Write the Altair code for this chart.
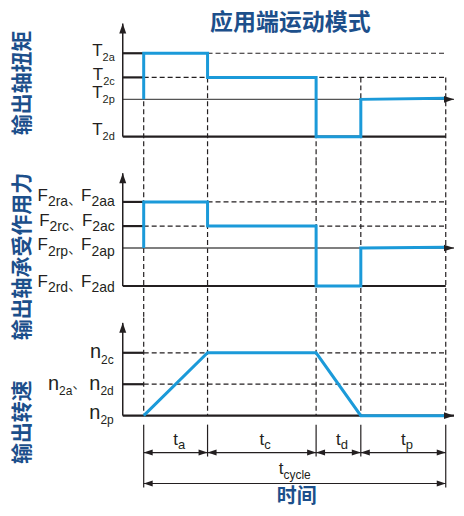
import altair as alt
import pandas as pd

# ---------------------------------------------------------------- data
phase_keys = ["a", "c", "d", "p"]            # t_a, t_c, t_d, t_p
phase_durations = [1.0, 1.7, 0.7, 1.33]
cycle_key = "cycle"

torque_labels = [[("T", "2a")], [("T", "2c")], [("T", "2p")], [("T", "2d")]]
torque_levels = [2.1, 1.0, 0.0, -1.7]
torque_roles = ["ref", "ref", "zero", "floor"]
torque_initial = 0.0
torque_phase_start = [2.1, 1.0, -1.7, 0.0]
torque_phase_end = [2.1, 1.0, -1.7, 0.05]

force_labels = [[("F", "2ra"), ("F", "2aa")], [("F", "2rc"), ("F", "2ac")],
                [("F", "2rp"), ("F", "2ap")], [("F", "2rd"), ("F", "2ad")]]
force_levels = [2.1, 1.0, 0.0, -1.73]
force_roles = ["ref", "ref", "zero", "floor"]
force_initial = 0.0
force_phase_start = [2.1, 1.0, -1.73, 0.0]
force_phase_end = [2.1, 1.0, -1.73, 0.04]

speed_labels = [[("n", "2c")], [("n", "2a"), ("n", "2d")], [("n", "2p")]]
speed_levels = [2.0, 1.0, 0.0]
speed_roles = ["ref", "ref", "zero_floor"]
speed_initial = 0.0
speed_phase_start = [0.0, 2.0, 2.0, 0.0]
speed_phase_end = [2.0, 2.0, 0.0, 0.0]

main_title = "应用端运动模式"
panel_titles = ["输出轴扭矩", "输出轴承受作用力", "输出转速"]
x_title = "时间"
label_separator = "、"
time_symbol = "t"

# ---------------------------------------------------------------- layout
MARGIN = 8
CHART_W = 448
T0_PX, PX_PER_T = 144.0, 64.0
AXIS_PX, ARROW_TIP_PX = 123.0, 455.0


def t_of(px):
    return (px - T0_PX) / PX_PER_T


def xrel(t):
    return T0_PX + PX_PER_T * t - MARGIN


X_DOMAIN = [t_of(MARGIN), t_of(MARGIN + CHART_W)]
AXIS_T, ARROW_T = t_of(AXIS_PX), t_of(ARROW_TIP_PX)

bounds = [0.0]
for d in phase_durations:
    bounds.append(bounds[-1] + d)
T_END = bounds[-1]

PANELS = [
    dict(top=8, bottom=160, base=99.0, unit=22.0, axis_top=23.0),
    dict(top=160, bottom=318, base=248.0, unit=22.0, axis_top=173.0),
    dict(top=318, bottom=420, base=416.0, unit=31.5, axis_top=323.0),
]
DIM = dict(top=420, bottom=508)


def vmin(p):
    return (p["base"] - p["bottom"]) / p["unit"]


def vmax(p):
    return (p["base"] - p["top"]) / p["unit"]


def v_of(p, px):
    return (p["base"] - px) / p["unit"]


def yrel(p, v):
    return p["base"] - v * p["unit"] - p["top"]


BLUE = "#1b9ad9"
INK = "#231f20"
GRAY = "#555555"
NAVY = "#1c4f8b"
LATIN = "Liberation Sans, Arial, Helvetica, Noto Sans CJK SC"
CJK = "Noto Sans CJK SC, Noto Sans CJK TC, sans-serif"
DASH = [5, 3]
ARROW_UP = "M0,0L0.35,1L-0.35,1Z"
ARROW_R = "M0,0L-1,-0.33L-1,0.33Z"
ARROW_L = "M0,0L1,-0.33L1,0.33Z"

WIDTH_EM = {"T": 0.611, "F": 0.611, "n": 0.556, "t": 0.278, "2": 0.556, "a": 0.556,
            "c": 0.5, "p": 0.556, "d": 0.556, "r": 0.333, "y": 0.5, "l": 0.222, "e": 0.556}


def text_w(s, size):
    return sum(WIDTH_EM.get(c, 0.556) for c in s) * size


LABEL_CFG = [
    dict(main=17, sub=11, sub_dy=5, sep_w=13, sep_size=13, sep_dy=3, right=115,
         offsets=[3, 2.5, -1.3, -2]),
    dict(main=17, sub=14, sub_dy=5.5, sep_w=13, sep_size=13, sep_dy=3, right=115,
         offsets=[-1, -0.5, 2, 1]),
    dict(main=20, sub=12, sub_dy=5.5, sep_w=17, sep_size=13, sep_dy=-2, right=114,
         offsets=[5.4, 5.7, 3]),
]
TITLE_CENTERS = [82.5, 256.5, 422.5]   # image y of rotated titles
TITLE_X = 23


def enc_x(field):
    return alt.X(f"{field}:Q", scale=alt.Scale(domain=X_DOMAIN, nice=False, zero=False), axis=None)


def enc_y(field, p):
    return alt.Y(f"{field}:Q", scale=alt.Scale(domain=[vmin(p), vmax(p)], nice=False, zero=False),
                 axis=None)


def seg_layer(rows, p, **mark):
    df = pd.DataFrame(rows, columns=["x", "x2", "y", "y2"])
    return alt.Chart(df).mark_rule(**mark).encode(
        x=enc_x("x"), x2="x2:Q", y=enc_y("y", p), y2="y2:Q")


def arrow_layer(rows, yenc, size):
    df = pd.DataFrame(rows, columns=["x", "y", "dir"])
    return alt.Chart(df).mark_point(filled=True, color=INK, opacity=1, size=size, strokeWidth=0).encode(
        x=enc_x("x"), y=yenc,
        shape=alt.Shape("dir:N", scale=alt.Scale(domain=["U", "R", "L"],
                                                 range=[ARROW_UP, ARROW_R, ARROW_L]), legend=None))


def text_layer(rows, **mark):
    df = pd.DataFrame(rows, columns=["x", "y", "text", "size"])
    return alt.Chart(df).mark_text(align="left", baseline="alphabetic", font=LATIN, color=INK, **mark).encode(
        x=alt.X("x:Q", scale=None, axis=None), y=alt.Y("y:Q", scale=None, axis=None),
        text="text:N", size=alt.Size("size:Q", scale=None, legend=None))


def label_rows(p, labels, levels, cfg):
    rows = []
    for lab, v, off in zip(labels, levels, cfg["offsets"]):
        base = yrel(p, v) + off
        x = cfg["right"] - MARGIN
        parts = list(reversed(lab))
        for j, (m, s) in enumerate(parts):
            x -= text_w(s, cfg["sub"])
            rows.append((x, base + cfg["sub_dy"], s, cfg["sub"]))
            x -= text_w(m, cfg["main"])
            rows.append((x, base, m, cfg["main"]))
            if j < len(parts) - 1:
                x -= cfg["sep_w"]
                rows.append((x, base + cfg["sep_dy"], label_separator, cfg["sep_size"]))
    return rows


def signal_panel(k, labels, levels, roles, initial, pstart, pend, vert_from, vert_to):
    p = PANELS[k]
    thick, thin, dashed, arrows = [], [], [], []
    for v, role in zip(levels, roles):
        if role == "ref":
            thick.append((AXIS_T, 0.0, v, v))
            dashed.append((0.0, T_END, v, v))
        elif role == "zero":
            thin.append((AXIS_T, ARROW_T, v, v))
            arrows.append((ARROW_T, v, "R"))
        elif role == "floor":
            thick.append((AXIS_T, T_END, v, v))
        elif role == "zero_floor":
            thick.append((AXIS_T, ARROW_T, v, v))
            arrows.append((ARROW_T, v, "R"))
    top_v = v_of(p, p["axis_top"])
    yaxis = [(AXIS_T, AXIS_T, min(levels), top_v)]
    arrows.append((AXIS_T, top_v, "U"))
    for b in bounds:
        dashed.append((b, b, vert_from, vert_to))

    pts = [(0.0, initial)]
    for i in range(len(phase_keys)):
        pts.append((bounds[i], pstart[i]))
        pts.append((bounds[i + 1], pend[i]))
    prof = pd.DataFrame(pts, columns=["t", "v"])
    prof["i"] = range(len(prof))

    layers = [
        seg_layer(dashed, p, color=INK, strokeWidth=1.2, strokeDash=DASH),
        seg_layer(thin, p, color=GRAY, strokeWidth=1.3),
        seg_layer(thick, p, color=INK, strokeWidth=2.2),
        alt.Chart(prof).mark_line(color=BLUE, strokeWidth=3, strokeJoin="miter").encode(
            x=enc_x("t"), y=enc_y("v", p), order="i:Q"),
        seg_layer(yaxis, p, color=INK, strokeWidth=1.5),
        arrow_layer(arrows, enc_y("y", p), 400),
        text_layer(label_rows(p, labels, levels, LABEL_CFG[k])),
        alt.Chart(pd.DataFrame({"text": [panel_titles[k]]})).mark_text(
            angle=270, font=CJK, fontWeight="bold", fontSize=21, color=NAVY,
            align="center", baseline="middle").encode(
            text="text:N", x=alt.value(TITLE_X - MARGIN), y=alt.value(TITLE_CENTERS[k] - p["top"])),
    ]
    if k == 0:
        layers.append(alt.Chart(pd.DataFrame({"text": [main_title]})).mark_text(
            font=CJK, fontWeight="bold", fontSize=23, color=NAVY, align="center", baseline="middle").encode(
            text="text:N", x=alt.value(291 - MARGIN), y=alt.value(22.5 - p["top"])))
    return alt.layer(*layers).properties(width=CHART_W, height=p["bottom"] - p["top"])


p1 = signal_panel(0, torque_labels, torque_levels, torque_roles, torque_initial,
                  torque_phase_start, torque_phase_end,
                  torque_levels[1], vmin(PANELS[0]))
p2 = signal_panel(1, force_labels, force_levels, force_roles, force_initial,
                  force_phase_start, force_phase_end,
                  vmax(PANELS[1]), vmin(PANELS[1]))
p3 = signal_panel(2, speed_labels, speed_levels, speed_roles, speed_initial,
                  speed_phase_start, speed_phase_end,
                  vmax(PANELS[2]), speed_levels[-1])

# ---------------------------------------------------------------- time dimensions
D0 = DIM["top"]
EXT_TOP, EXT_INNER, EXT_OUTER = 425 - D0, 457 - D0, 488 - D0
ROW1, ROW2 = 453 - D0, 484 - D0
ext = []
for i, b in enumerate(bounds):
    ext.append((b, b, EXT_TOP, EXT_OUTER if i in (0, len(bounds) - 1) else EXT_INNER))
dims = [(bounds[i], bounds[i + 1], ROW1, ROW1) for i in range(len(phase_keys))]
dims.append((0.0, T_END, ROW2, ROW2))
heads = []
for i in range(len(phase_keys)):
    heads += [(bounds[i], ROW1, "L"), (bounds[i + 1], ROW1, "R")]
heads += [(0.0, ROW2, "L"), (T_END, ROW2, "R")]

TMAIN, TSUB = 17, 13
dim_text = []
for i, key in enumerate(phase_keys):
    cx = xrel((bounds[i] + bounds[i + 1]) / 2)
    wt = text_w(time_symbol, TMAIN)
    dim_text.append((cx - wt / 2, 445 - D0, time_symbol, TMAIN))
    dim_text.append((cx + wt / 2, 449 - D0, key, TSUB))
wt, ws = text_w(time_symbol, TMAIN), text_w(cycle_key, 12)
cx = xrel(T_END / 2)
dim_text.append((cx - (wt + ws) / 2, 474 - D0, time_symbol, TMAIN))
dim_text.append((cx - (wt + ws) / 2 + wt, 479 - D0, cycle_key, 12))


def dim_seg(rows, **mark):
    df = pd.DataFrame(rows, columns=["x", "x2", "y", "y2"])
    return alt.Chart(df).mark_rule(**mark).encode(
        x=enc_x("x"), x2="x2:Q", y=alt.Y("y:Q", scale=None, axis=None), y2="y2:Q")


p4 = alt.layer(
    dim_seg(ext, color=INK, strokeWidth=1.2),
    dim_seg(dims, color=INK, strokeWidth=1.2),
    arrow_layer(heads, alt.Y("y:Q", scale=None, axis=None), 324),
    text_layer(dim_text),
    alt.Chart(pd.DataFrame({"text": [x_title]})).mark_text(
        font=CJK, fontWeight="bold", fontSize=20, color=NAVY, align="center", baseline="middle").encode(
        text="text:N", x=alt.value(xrel(T_END / 2) + 2), y=alt.value(497.5 - D0)),
).properties(width=CHART_W, height=DIM["bottom"] - DIM["top"])

chart = alt.vconcat(p1, p2, p3, p4, spacing=0).resolve_scale(y="independent").properties(
    padding=0, bounds="flush", background="white").configure_view(stroke=None)

chart.save("out.html", embed_options={"renderer": "svg", "actions": False})
